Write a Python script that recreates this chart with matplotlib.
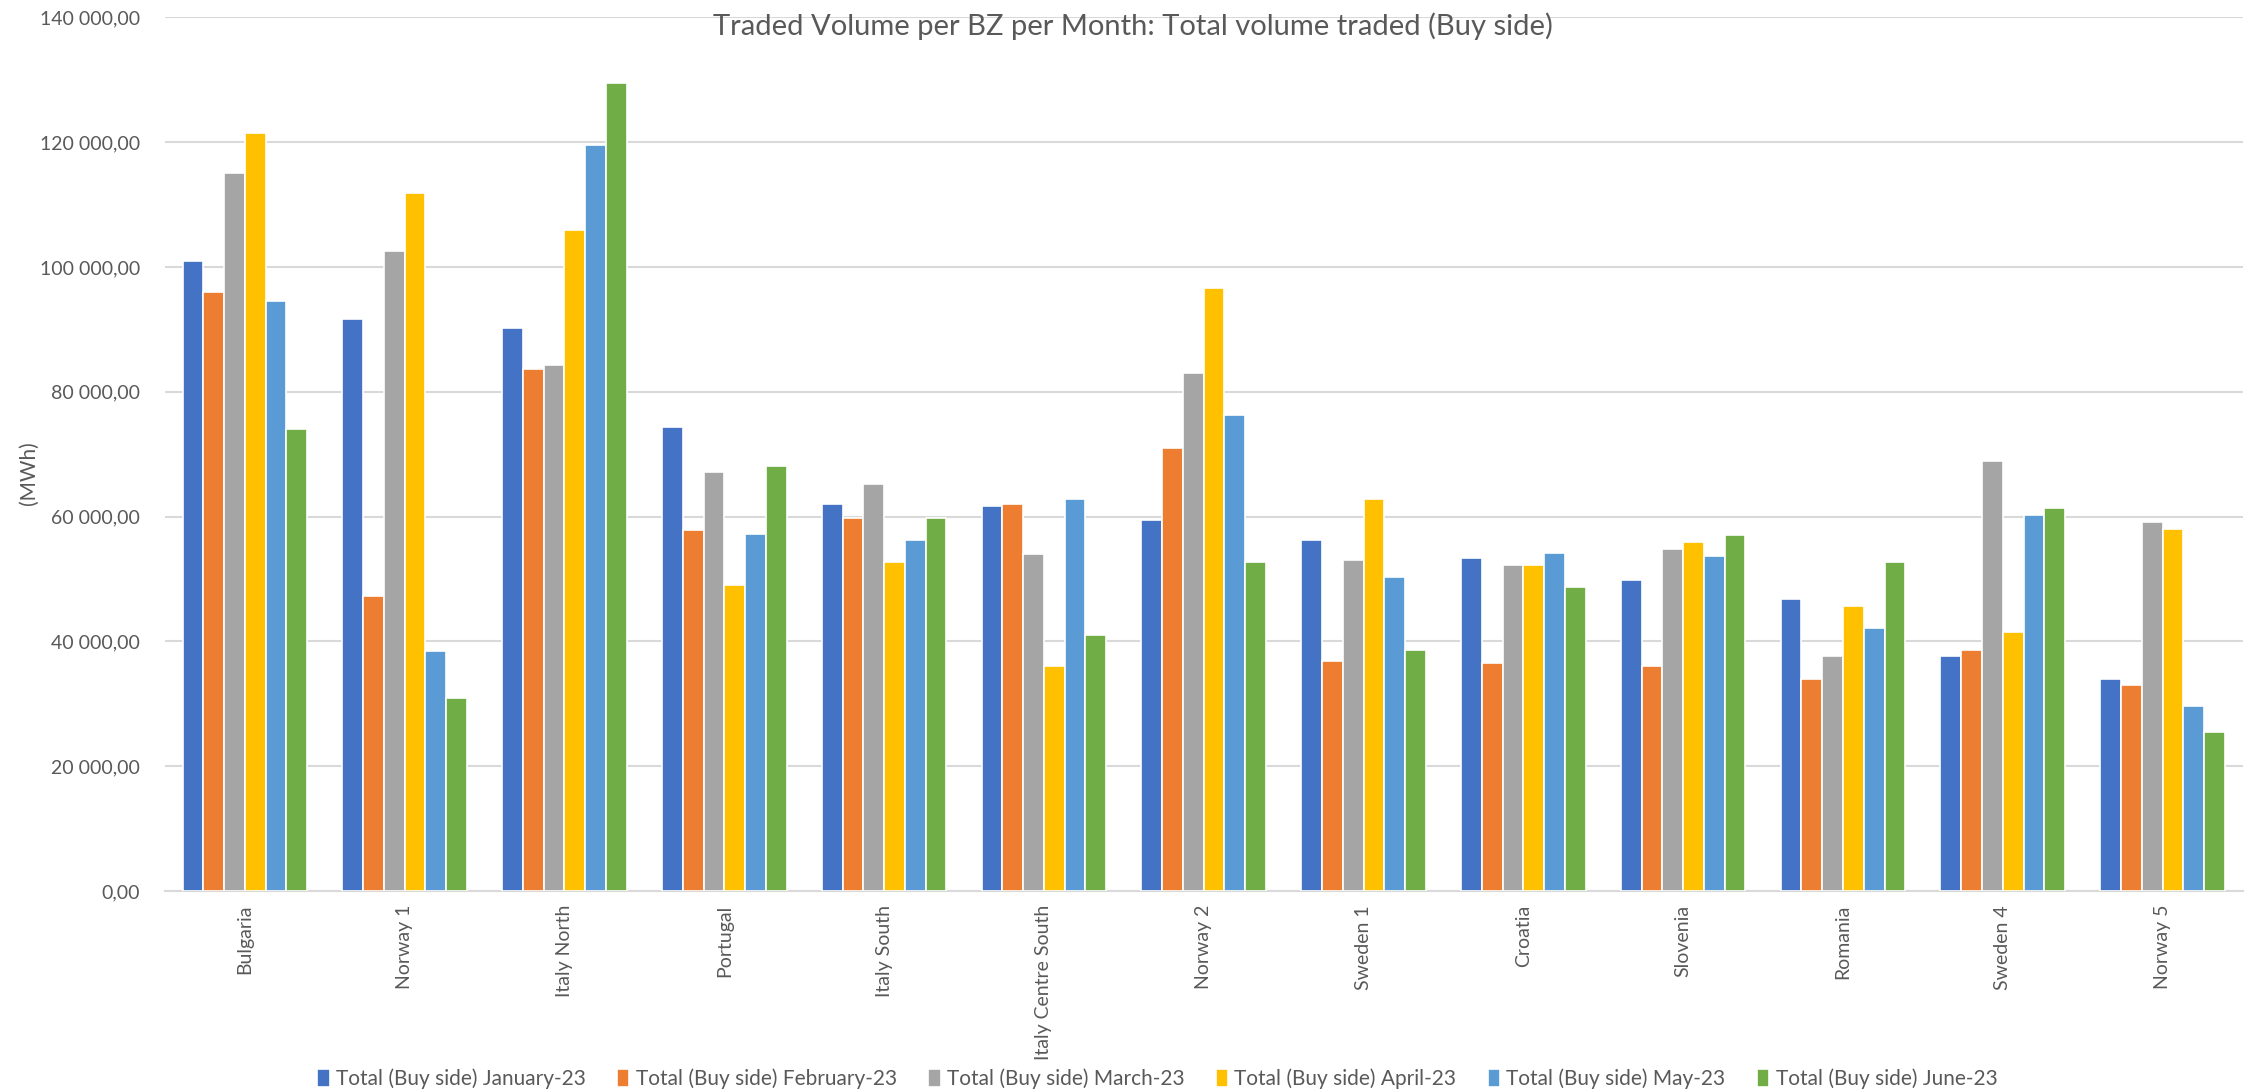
import numpy as np
import matplotlib
matplotlib.use("Agg")
import matplotlib.pyplot as plt
from matplotlib.ticker import FuncFormatter, MultipleLocator

plt.rcParams['font.family'] = ['Lato', 'DejaVu Sans']

# bidding zones, in the order shown
zones = ['Bulgaria', 'Norway 1', 'Italy North', 'Portugal', 'Italy South',
         'Italy Centre South', 'Norway 2', 'Sweden 1', 'Croatia', 'Slovenia',
         'Romania', 'Sweden 4', 'Norway 5']

# traded volume (MWh), one list per month
jan = [101000, 91700, 90300, 74300, 62000, 61700, 59500, 56200, 53400, 49800, 46800, 37600, 34000]
feb = [96000, 47300, 83700, 57800, 59800, 62000, 71000, 36800, 36500, 36000, 34000, 38700, 33000]
mar = [115000, 102500, 84300, 67200, 65300, 54000, 83000, 53100, 52300, 54800, 37600, 68900, 59200]
apr = [121500, 111800, 106000, 49000, 52800, 36000, 96700, 62800, 52300, 55900, 45700, 41500, 58000]
may = [94500, 38400, 119600, 57200, 56200, 62800, 76300, 50300, 54200, 53700, 42100, 60300, 29600]
jun = [74000, 31000, 129500, 68200, 59800, 41000, 52800, 38700, 48700, 57000, 52800, 61400, 25500]

series_labels = ['Total (Buy side) January-23', 'Total (Buy side) February-23',
                 'Total (Buy side) March-23', 'Total (Buy side) April-23',
                 'Total (Buy side) May-23', 'Total (Buy side) June-23']
colors = ['#4472C4', '#ED7D31', '#A5A5A5', '#FFC000', '#5B9BD5', '#70AD47']

text_col = '#595959'


def fmt(v, pos):
    s = f"{v:,.2f}"
    return s.replace(',', ' ').replace('.', ',')


fig = plt.figure(figsize=(22.47, 10.92), dpi=100)
ax = fig.add_axes([0.0734, 0.184, 0.9246, 0.8])

x = np.arange(len(zones))
n = len(series_labels)
bw = 0.78 / n
for i, (vals, lab, c) in enumerate(zip([jan, feb, mar, apr, may, jun], series_labels, colors)):
    ax.bar(x - 0.39 + bw * (i + 0.5), vals, width=bw, color=c, label=lab,
           edgecolor='white', linewidth=1.2, zorder=3)

ax.set_xlim(-0.5, len(zones) - 0.5)
ax.set_ylim(0, 140000)
ax.yaxis.set_major_locator(MultipleLocator(20000))
ax.yaxis.set_major_formatter(FuncFormatter(fmt))
ax.grid(axis='y', color='#D9D9D9', linewidth=1.5, zorder=0)
for side in ['top', 'right', 'left']:
    ax.spines[side].set_visible(False)
ax.spines['bottom'].set_color('#D9D9D9')
ax.spines['bottom'].set_linewidth(1.5)
ax.tick_params(axis='both', length=0, colors=text_col, labelsize=14)
ax.tick_params(axis='y', pad=18)
ax.tick_params(axis='x', pad=10)
ax.set_xticks(x)
ax.set_xticklabels(zones, rotation=90, fontsize=14, color=text_col)

fig.text(0.013, 0.567, '(MWh)', rotation=90, ha='center', va='center',
         fontsize=15, color=text_col)

fig.text(0.504, 0.976, 'Traded Volume per BZ per Month: Total volume traded (Buy side)',
         ha='center', va='center', fontsize=21, color=text_col)

fig.legend(loc='center', bbox_to_anchor=(0.515, 0.012), ncol=6, frameon=False,
           fontsize=15, labelcolor=text_col, handlelength=0.6, handleheight=0.9,
           handletextpad=0.3, columnspacing=1.5)

fig.savefig('out.png', dpi=100)
